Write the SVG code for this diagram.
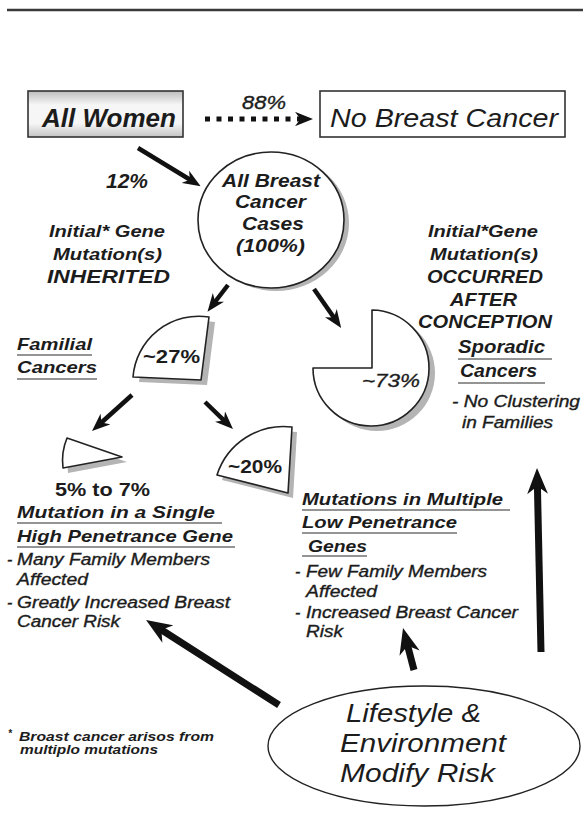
<svg xmlns="http://www.w3.org/2000/svg" width="583" height="823" viewBox="0 0 583 823">
<style>
text{font-family:"Liberation Sans",Arial,Helvetica,sans-serif;fill:#1c1c1c}
.bi{font-weight:bold;font-style:italic}
.i{font-style:italic}
.m{stroke:#1c1c1c;stroke-width:0.35}
.b{font-weight:bold}
.box{stroke:#333;stroke-width:1.6}
.shape{fill:#fff;stroke:#222;stroke-width:1.6;stroke-linejoin:round}
.shadow{fill:#b4b4b4}
.ul{stroke:#707070;stroke-width:1.6}
.arr{stroke:#111;stroke-width:4.5;fill:none;marker-end:url(#headM)}
.arrL{stroke:#111;stroke-width:7;fill:none;marker-end:url(#headL)}
.dots{stroke:#111;stroke-width:5;stroke-dasharray:5 6.5;fill:none;marker-end:url(#headM)}
</style>
<defs>
<linearGradient id="gWomen" x1="0" y1="0" x2="0" y2="1">
<stop offset="0" stop-color="#bdbdbd"/>
<stop offset="0.3" stop-color="#f6f6f6"/>
<stop offset="0.7" stop-color="#f6f6f6"/>
<stop offset="1" stop-color="#c4c4c4"/>
</linearGradient>
<marker id="headM" viewBox="0 0 20 16" refX="10" refY="8" markerUnits="userSpaceOnUse" markerWidth="18" markerHeight="14.4" orient="auto">
<path d="M0,0 L20,8 L0,16 L6,8 Z" fill="#111"/>
</marker>
<marker id="headL" viewBox="0 0 20 16" refX="10" refY="8" markerUnits="userSpaceOnUse" markerWidth="26" markerHeight="20.8" orient="auto">
<path d="M0,0 L20,8 L0,16 L6,8 Z" fill="#111"/>
</marker>
</defs>

<!-- header rule -->
<line x1="7" y1="10" x2="583" y2="10" stroke="#3a3a3a" stroke-width="2.5"/>

<g id="all-women">
<rect x="28" y="91" width="155" height="46" fill="url(#gWomen)" class="box"/>
<text x="42" y="127" font-size="25" class="bi" textLength="134" lengthAdjust="spacingAndGlyphs">All Women</text>
</g>

<g id="no-breast-cancer">
<rect x="320" y="91" width="245" height="46" fill="#fff" class="box"/>
<text x="330" y="127" font-size="25" class="i" textLength="228" lengthAdjust="spacingAndGlyphs">No Breast Cancer</text>
</g>

<g id="all-cases">
<ellipse cx="276" cy="223" rx="73" ry="68" class="shadow"/>
<ellipse cx="271" cy="220" rx="73" ry="68" class="shape"/>
<text x="222" y="187" font-size="19" class="bi" textLength="98" lengthAdjust="spacingAndGlyphs">All Breast</text>
<text x="235" y="208" font-size="19" class="bi" textLength="71" lengthAdjust="spacingAndGlyphs">Cancer</text>
<text x="242" y="230" font-size="19" class="bi" textLength="62" lengthAdjust="spacingAndGlyphs">Cases</text>
<text x="236" y="252" font-size="19" class="bi" textLength="69" lengthAdjust="spacingAndGlyphs">(100%)</text>
</g>

<g id="inherited-label">
<text x="49" y="237" font-size="17" class="bi" textLength="116" lengthAdjust="spacingAndGlyphs">Initial* Gene</text>
<text x="53" y="260" font-size="17" class="bi" textLength="109" lengthAdjust="spacingAndGlyphs">Mutation(s)</text>
<text x="47" y="283" font-size="18" class="bi" textLength="123" lengthAdjust="spacingAndGlyphs">INHERITED</text>
</g>

<g id="acquired-label">
<text x="428" y="237" font-size="17" class="bi" textLength="110" lengthAdjust="spacingAndGlyphs">Initial*Gene</text>
<text x="430" y="260" font-size="17" class="bi" textLength="108" lengthAdjust="spacingAndGlyphs">Mutation(s)</text>
<text x="427" y="283" font-size="18" class="bi" textLength="116" lengthAdjust="spacingAndGlyphs">OCCURRED</text>
<text x="450" y="306" font-size="18" class="bi" textLength="67" lengthAdjust="spacingAndGlyphs">AFTER</text>
<text x="418" y="328" font-size="18" class="bi" textLength="134" lengthAdjust="spacingAndGlyphs">CONCEPTION</text>
</g>

<g id="familial">
<path d="M207,385 L215,322 A66,66 0 0,0 139,382 Z" class="shadow"/>
<path d="M201,380 L209,317 A66,66 0 0,0 133,377 Z" class="shape"/>
<text x="143" y="363" font-size="19" class="b" textLength="57" lengthAdjust="spacingAndGlyphs">~27%</text>
<text x="17" y="350" font-size="17" class="bi" textLength="75" lengthAdjust="spacingAndGlyphs">Familial</text>
<line x1="17" y1="355" x2="92" y2="355" class="ul"/>
<text x="17" y="373" font-size="17" class="bi" textLength="80" lengthAdjust="spacingAndGlyphs">Cancers</text>
<line x1="17" y1="379" x2="97" y2="379" class="ul"/>
</g>

<g id="sporadic">
<path d="M378,373 L319,373 A58,58 0 1,0 378,315 Z" class="shadow"/>
<path d="M372,368 L313,368 A58,58 0 1,0 372,310 Z" class="shape"/>
<text x="362" y="387" font-size="19" class="i m" textLength="58" lengthAdjust="spacingAndGlyphs">~73%</text>
<text x="458" y="353" font-size="18" class="bi" textLength="87" lengthAdjust="spacingAndGlyphs">Sporadic</text>
<line x1="458" y1="359" x2="552" y2="359" class="ul"/>
<text x="460" y="377" font-size="18" class="bi" textLength="77" lengthAdjust="spacingAndGlyphs">Cancers</text>
<line x1="458" y1="383" x2="545" y2="383" class="ul"/>
<text x="452" y="407" font-size="16" class="i m" textLength="128" lengthAdjust="spacingAndGlyphs">- No Clustering</text>
<text x="462" y="428" font-size="16" class="i m" textLength="91" lengthAdjust="spacingAndGlyphs">in Families</text>
</g>

<g id="high-penetrance">
<path d="M127,462 L72,443 A59,59 0 0,0 68,473 Z" class="shadow"/>
<path d="M122,457 L67,438 A59,59 0 0,0 63,468 Z" class="shape"/>
<text x="55" y="496" font-size="18" class="b" textLength="95" lengthAdjust="spacingAndGlyphs">5% to 7%</text>
<text x="17" y="518" font-size="17" class="bi" textLength="198" lengthAdjust="spacingAndGlyphs">Mutation in a  Single</text>
<line x1="17" y1="523" x2="222" y2="523" class="ul"/>
<text x="17" y="542" font-size="17" class="bi" textLength="216" lengthAdjust="spacingAndGlyphs">High Penetrance Gene</text>
<line x1="17" y1="547" x2="235" y2="547" class="ul"/>
<text x="7" y="565" font-size="16" class="i m">-</text>
<text x="17" y="565" font-size="16" class="i m" textLength="193" lengthAdjust="spacingAndGlyphs">Many Family Members</text>
<text x="17" y="585" font-size="16" class="i m" textLength="71" lengthAdjust="spacingAndGlyphs">Affected</text>
<text x="7" y="608" font-size="16" class="i m">-</text>
<text x="17" y="608" font-size="16" class="i m" textLength="213" lengthAdjust="spacingAndGlyphs">Greatly Increased Breast</text>
<text x="17" y="627" font-size="16" class="i m" textLength="103" lengthAdjust="spacingAndGlyphs">Cancer Risk</text>
</g>

<g id="low-penetrance">
<path d="M293,498 L297,432 A70,70 0 0,0 222,480 Z" class="shadow"/>
<path d="M288,493 L292,427 A70,70 0 0,0 217,475 Z" class="shape"/>
<text x="228" y="473" font-size="18" class="b" textLength="54" lengthAdjust="spacingAndGlyphs">~20%</text>
<text x="302" y="505" font-size="17" class="bi" textLength="201" lengthAdjust="spacingAndGlyphs">Mutations in Multiple</text>
<line x1="302" y1="510" x2="510" y2="510" class="ul"/>
<text x="302" y="528" font-size="17" class="bi" textLength="155" lengthAdjust="spacingAndGlyphs">Low Penetrance</text>
<line x1="302" y1="533" x2="457" y2="533" class="ul"/>
<text x="308" y="552" font-size="17" class="bi" textLength="59" lengthAdjust="spacingAndGlyphs">Genes</text>
<line x1="302" y1="556" x2="367" y2="556" class="ul"/>
<text x="295" y="577" font-size="16" class="i m">-</text>
<text x="306" y="577" font-size="16" class="i m" textLength="181" lengthAdjust="spacingAndGlyphs">Few Family Members</text>
<text x="306" y="597" font-size="16" class="i m" textLength="71" lengthAdjust="spacingAndGlyphs">Affected</text>
<text x="295" y="618" font-size="16" class="i m">-</text>
<text x="306" y="618" font-size="16" class="i m" textLength="212" lengthAdjust="spacingAndGlyphs">Increased Breast Cancer</text>
<text x="306" y="637" font-size="16" class="i m" textLength="37" lengthAdjust="spacingAndGlyphs">Risk</text>
</g>

<g id="lifestyle">
<ellipse cx="424" cy="746" rx="156" ry="60" fill="#fff" stroke="#222" stroke-width="1.4"/>
<text x="346" y="722" font-size="25" class="i" textLength="135" lengthAdjust="spacingAndGlyphs">Lifestyle &amp;</text>
<text x="340" y="752" font-size="25" class="i" textLength="166" lengthAdjust="spacingAndGlyphs">Environment</text>
<text x="340" y="782" font-size="25" class="i" textLength="155" lengthAdjust="spacingAndGlyphs">Modify Risk</text>
</g>

<g id="footnote">
<text x="8" y="737" font-size="10" class="bi">*</text>
<text x="19" y="741" font-size="12" class="bi" textLength="195" lengthAdjust="spacingAndGlyphs">Broast cancer arisos from</text>
<text x="20" y="754" font-size="12" class="bi" textLength="138" lengthAdjust="spacingAndGlyphs">multiplo mutations</text>
</g>

<g id="connectors">
<line x1="205" y1="119" x2="304" y2="119" class="dots"/>
<text x="242" y="109" font-size="18" class="i m" textLength="44" lengthAdjust="spacingAndGlyphs">88%</text>
<line x1="138" y1="148" x2="193" y2="181.5" class="arr"/>
<text x="106" y="188" font-size="20" class="bi" textLength="42" lengthAdjust="spacingAndGlyphs">12%</text>
<line x1="228" y1="285" x2="213" y2="304.5" class="arr"/>
<line x1="314" y1="289" x2="336" y2="320.5" class="arr"/>
<line x1="132" y1="395" x2="98.7" y2="425" class="arr"/>
<line x1="205" y1="402" x2="226.5" y2="422.8" class="arr"/>
<line x1="279" y1="705" x2="157" y2="627" class="arrL"/>
<line x1="414" y1="670" x2="406.3" y2="640.6" class="arrL"/>
<line x1="541" y1="652" x2="537.3" y2="481" class="arrL"/>
</g>
</svg>
